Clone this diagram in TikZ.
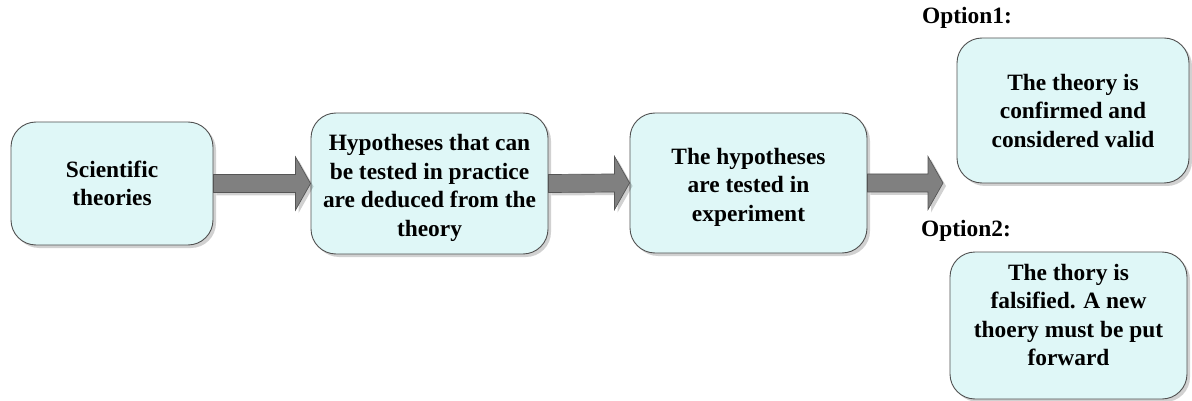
\documentclass[tikz,border=0pt]{standalone}
\usepackage{fontspec}
\setmainfont{Liberation Serif}
\usetikzlibrary{calc,shadows}
\definecolor{boxfill}{RGB}{223,247,247}
\definecolor{boxline}{RGB}{80,80,80}
\definecolor{arrowfill}{RGB}{128,128,128}
\definecolor{arrowline}{RGB}{85,85,85}
\tikzset{
  stagebox/.style={draw=boxline, line width=0.9pt, fill=boxfill, rounded corners=25pt,
    align=center, inner sep=0pt,
    drop shadow={shadow xshift=3pt, shadow yshift=-3pt, fill=black, opacity=0.18},
    font=\bfseries\fontsize{23.4}{28.5}\selectfont},
  boxtext/.style={align=center, inner sep=0pt, font=\bfseries\fontsize{23.4}{28.5}\selectfont},
  optlabel/.style={anchor=base west, inner sep=0pt, font=\bfseries\fontsize{23.4}{28.5}\selectfont},
  blockarrow/.style={draw=arrowline, line width=0.7pt, fill=arrowfill, line join=miter,
    drop shadow={shadow xshift=3pt, shadow yshift=-3pt, fill=black, opacity=0.18}}
}
% thick block arrow from the east side of #1 to the point #2
\newcommand{\thickarrow}[2]{%
  \path[blockarrow]
    ($(#1.east)+(0,9)$) -- ($(#2)+(-15,9)$) -- ($(#2)+(-15,26.5)$) -- (#2)
    -- ($(#2)+(-15,-26.5)$) -- ($(#2)+(-15,-9)$) -- ($(#1.east)+(0,-9)$) -- cycle;}
\begin{document}
\begin{tikzpicture}[x=1pt,y=1pt]
\useasboundingbox (0,0) rectangle (1192,-401);

% the stages of the method
\node[stagebox, minimum width=202pt, minimum height=123pt] (b1) at (112,-183.5)
  {Scientific\\theories};
\node[stagebox, minimum width=237pt, minimum height=141pt] (b2) at (429.5,-183.5) {};
\node[boxtext] (t2) at ($(b2.center)+(0,-4.5)$)
  {Hypotheses that can\\be tested in practice\\are deduced from the\\theory};
\node[stagebox, minimum width=237pt, minimum height=140pt] (b3) at (748.5,-183) {};
\node[boxtext] (t3) at ($(b3.center)+(0,-4)$)
  {The hypotheses\\are tested in\\experiment};

% the two possible outcomes
\node[stagebox, minimum width=232pt, minimum height=145pt] (b4) at (1073,-110.5)
  {The theory is\\confirmed and\\considered valid};
\node[stagebox, minimum width=237pt, minimum height=147pt] (b5) at (1068.5,-325.5) {};
\node[boxtext] (t5) at ($(b5.center)+(0,10.5)$)
  {The thory is\\falsified. A new\\thoery must be put\\forward};

\node[optlabel] (o1) at (922,-24) {Option1:};
\node[optlabel] (o2) at (921,-236) {Option2:};

% connecting block arrows
\coordinate (a3tip) at (943,-183);
\thickarrow{b1}{b2.west}
\thickarrow{b2}{b3.west}
\thickarrow{b3}{a3tip}
\end{tikzpicture}
\end{document}
